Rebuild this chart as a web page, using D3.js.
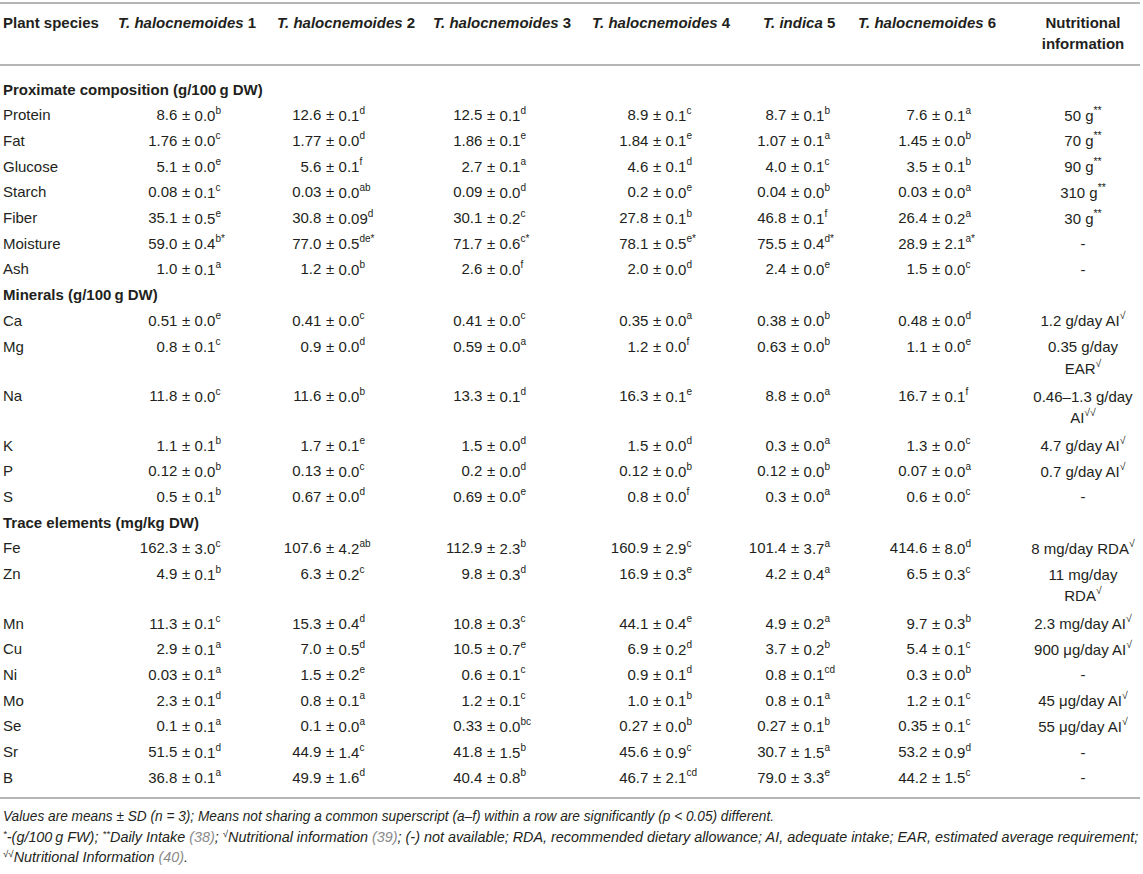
<!DOCTYPE html>
<html>
<head>
<meta charset="utf-8">
<script src="https://cdn.jsdelivr.net/npm/d3@7"></script>
<style>
  html, body { margin: 0; padding: 0; background: #fff; }
  svg { display: block; font-family: "Liberation Sans", Arial, Helvetica, sans-serif; }
</style>
</head>
<body>
<svg id="chart" width="1143" height="874"></svg>
<script>
// ---------------- DATA ----------------
const firstHeader = "Plant species";
const speciesNames = ["T. halocnemoides", "T. halocnemoides", "T. halocnemoides", "T. halocnemoides", "T. indica", "T. halocnemoides"];
const speciesNums = ["1", "2", "3", "4", "5", "6"];
const infoHeader = ["Nutritional", "information"];

const sections = ["Proximate composition (g/100\u2009g DW)", "Minerals (g/100\u2009g DW)", "Trace elements (mg/kg DW)"];

const proximateRows = ["Protein", "Fat", "Glucose", "Starch", "Fiber", "Moisture", "Ash"];
const proximateMeans = [
  ["8.6", "12.6", "12.5", "8.9", "8.7", "7.6"],
  ["1.76", "1.77", "1.86", "1.84", "1.07", "1.45"],
  ["5.1", "5.6", "2.7", "4.6", "4.0", "3.5"],
  ["0.08", "0.03", "0.09", "0.2", "0.04", "0.03"],
  ["35.1", "30.8", "30.1", "27.8", "46.8", "26.4"],
  ["59.0", "77.0", "71.7", "78.1", "75.5", "28.9"],
  ["1.0", "1.2", "2.6", "2.0", "2.4", "1.5"]
];
const proximateSD = [
  ["0.0", "0.1", "0.1", "0.1", "0.1", "0.1"],
  ["0.0", "0.0", "0.1", "0.1", "0.1", "0.0"],
  ["0.0", "0.1", "0.1", "0.1", "0.1", "0.1"],
  ["0.1", "0.0", "0.0", "0.0", "0.0", "0.0"],
  ["0.5", "0.09", "0.2", "0.1", "0.1", "0.2"],
  ["0.4", "0.5", "0.6", "0.5", "0.4", "2.1"],
  ["0.1", "0.0", "0.0", "0.0", "0.0", "0.0"]
];
const proximateSup = [
  ["b", "d", "d", "c", "b", "a"],
  ["c", "d", "e", "e", "a", "b"],
  ["e", "f", "a", "d", "c", "b"],
  ["c", "ab", "d", "e", "b", "a"],
  ["e", "d", "c", "b", "f", "a"],
  ["b*", "de*", "c*", "e*", "d*", "a*"],
  ["a", "b", "f", "d", "e", "c"]
];
const proximateInfo = ["50 g^**", "70 g^**", "90 g^**", "310 g^**", "30 g^**", "-", "-"];

const mineralRows = ["Ca", "Mg", "Na", "K", "P", "S"];
const mineralMeans = [
  ["0.51", "0.41", "0.41", "0.35", "0.38", "0.48"],
  ["0.8", "0.9", "0.59", "1.2", "0.63", "1.1"],
  ["11.8", "11.6", "13.3", "16.3", "8.8", "16.7"],
  ["1.1", "1.7", "1.5", "1.5", "0.3", "1.3"],
  ["0.12", "0.13", "0.2", "0.12", "0.12", "0.07"],
  ["0.5", "0.67", "0.69", "0.8", "0.3", "0.6"]
];
const mineralSD = [
  ["0.0", "0.0", "0.0", "0.0", "0.0", "0.0"],
  ["0.1", "0.0", "0.0", "0.0", "0.0", "0.0"],
  ["0.0", "0.0", "0.1", "0.1", "0.0", "0.1"],
  ["0.1", "0.1", "0.0", "0.0", "0.0", "0.0"],
  ["0.0", "0.0", "0.0", "0.0", "0.0", "0.0"],
  ["0.1", "0.0", "0.0", "0.0", "0.0", "0.0"]
];
const mineralSup = [
  ["e", "c", "c", "a", "b", "d"],
  ["c", "d", "a", "f", "b", "e"],
  ["c", "b", "d", "e", "a", "f"],
  ["b", "e", "d", "d", "a", "c"],
  ["b", "c", "d", "b", "b", "a"],
  ["b", "d", "e", "f", "a", "c"]
];
const mineralInfo = ["1.2 g/day AI^\u221A", "0.35 g/day|EAR^\u221A", "0.46\u20131.3 g/day|AI^\u221A\u221A", "4.7 g/day AI^\u221A", "0.7 g/day AI^\u221A", "-"];

const traceRows = ["Fe", "Zn", "Mn", "Cu", "Ni", "Mo", "Se", "Sr", "B"];
const traceMeans = [
  ["162.3", "107.6", "112.9", "160.9", "101.4", "414.6"],
  ["4.9", "6.3", "9.8", "16.9", "4.2", "6.5"],
  ["11.3", "15.3", "10.8", "44.1", "4.9", "9.7"],
  ["2.9", "7.0", "10.5", "6.9", "3.7", "5.4"],
  ["0.03", "1.5", "0.6", "0.9", "0.8", "0.3"],
  ["2.3", "0.8", "1.2", "1.0", "0.8", "1.2"],
  ["0.1", "0.1", "0.33", "0.27", "0.27", "0.35"],
  ["51.5", "44.9", "41.8", "45.6", "30.7", "53.2"],
  ["36.8", "49.9", "40.4", "46.7", "79.0", "44.2"]
];
const traceSD = [
  ["3.0", "4.2", "2.3", "2.9", "3.7", "8.0"],
  ["0.1", "0.2", "0.3", "0.3", "0.4", "0.3"],
  ["0.1", "0.4", "0.3", "0.4", "0.2", "0.3"],
  ["0.1", "0.5", "0.7", "0.2", "0.2", "0.1"],
  ["0.1", "0.2", "0.1", "0.1", "0.1", "0.0"],
  ["0.1", "0.1", "0.1", "0.1", "0.1", "0.1"],
  ["0.1", "0.0", "0.0", "0.0", "0.1", "0.1"],
  ["0.1", "1.4", "1.5", "0.9", "1.5", "0.9"],
  ["0.1", "1.6", "0.8", "2.1", "3.3", "1.5"]
];
const traceSup = [
  ["c", "ab", "b", "c", "a", "d"],
  ["b", "c", "d", "e", "a", "c"],
  ["c", "d", "c", "e", "a", "b"],
  ["a", "d", "e", "d", "b", "c"],
  ["a", "e", "c", "d", "cd", "b"],
  ["d", "a", "c", "b", "a", "c"],
  ["a", "a", "bc", "b", "b", "c"],
  ["d", "c", "b", "c", "a", "d"],
  ["a", "d", "b", "cd", "e", "c"]
];
const traceInfo = ["8 mg/day RDA^\u221A", "11 mg/day|RDA^\u221A", "2.3 mg/day AI^\u221A", "900 \u03BCg/day AI^\u221A", "-", "45 \u03BCg/day AI^\u221A", "55 \u03BCg/day AI^\u221A", "-", "-"];

// footnotes: segments [text, style] ; style: n normal, s superscript, g gray reference
const footnote1 = [["Values are means \u00B1 SD (n = 3); Means not sharing a common superscript (a\u2013f) within a row are significantly (p < 0.05) different.", "n"]];
const footnote2 = [["*", "s"], ["-(g/100\u2009g FW); ", "n"], ["**", "s"], ["Daily Intake ", "n"], ["(38)", "g"], ["; ", "n"], ["\u221A", "s"],
  ["Nutritional information ", "n"], ["(39)", "g"], ["; (-) not available; RDA, recommended dietary allowance; AI, adequate intake; EAR, estimated average requirement;", "n"]];
const footnote3 = [["\u221A\u221A", "s"], ["Nutritional Information ", "n"], ["(40)", "g"], [".", "n"]];

// ---------------- LAYOUT ----------------
const FS = 15;
const TEXT = "#231f20";
const RULE = "#b5b5b5";
const svg = d3.select("#chart");

const pmX = d3.scaleOrdinal().domain(d3.range(6)).range([186, 330, 491, 657, 795, 936]);
const headX = d3.scaleOrdinal().domain(d3.range(6)).range([118, 277, 433, 592, 763, 858]);
const infoX = 1083;
const labelX = 3;

// build row list
const rows = [];
function addSection(title, names, means, sds, sups, infos) {
  rows.push({ type: "section", title });
  names.forEach((n, i) => rows.push({ type: "data", name: n, means: means[i], sds: sds[i], sups: sups[i], info: infos[i] }));
}
addSection(sections[0], proximateRows, proximateMeans, proximateSD, proximateSup, proximateInfo);
addSection(sections[1], mineralRows, mineralMeans, mineralSD, mineralSup, mineralInfo);
addSection(sections[2], traceRows, traceMeans, traceSD, traceSup, traceInfo);

const rowStep = 25.7, lineStep = 21.5, multiExtra = 23.8;
let y = 89;
rows.forEach(r => {
  r.y = y;
  const nLines = r.type === "data" ? r.info.split("|").length : 1;
  y += rowStep + (nLines - 1) * multiExtra;
});

// rules
[3, 65, 798].forEach(yy => {
  svg.append("line").attr("x1", 0).attr("x2", 1140).attr("y1", yy).attr("y2", yy)
    .attr("stroke", RULE).attr("stroke-width", 2);
});

// header
const hdr = svg.append("g").attr("font-weight", "bold").attr("font-size", FS).attr("fill", TEXT)
  .attr("dominant-baseline", "central");
hdr.append("text").attr("x", labelX).attr("y", 22).text(firstHeader);
speciesNames.forEach((s, i) => {
  const t = hdr.append("text").attr("x", headX(i)).attr("y", 22);
  t.append("tspan").attr("font-style", "italic").text(s);
  t.append("tspan").text(" " + speciesNums[i]);
});
infoHeader.forEach((s, i) => {
  hdr.append("text").attr("x", infoX).attr("y", 22 + i * lineStep).attr("text-anchor", "middle").text(s);
});

// body
const body = svg.append("g").attr("font-size", FS).attr("fill", TEXT).attr("dominant-baseline", "central");

function addMarked(textSel, str) {
  const parts = str.split("^");
  textSel.append("tspan").text(parts[0]);
  if (parts.length > 1) {
    textSel.append("tspan").attr("font-size", 10.5).attr("dy", -5).text(parts[1]);
  }
}

rows.forEach(r => {
  if (r.type === "section") {
    body.append("text").attr("x", labelX).attr("y", r.y).attr("font-weight", "bold").text(r.title);
    return;
  }
  body.append("text").attr("x", labelX).attr("y", r.y).text(r.name);
  r.means.forEach((m, i) => {
    const cx = pmX(i);
    body.append("text").attr("x", cx - 8.6).attr("y", r.y).attr("text-anchor", "end").text(m);
    body.append("text").attr("x", cx).attr("y", r.y).attr("text-anchor", "middle").text("\u00B1");
    const t = body.append("text").attr("x", cx + 8.6).attr("y", r.y);
    t.append("tspan").text(r.sds[i]);
    t.append("tspan").attr("font-size", 10).attr("dy", -5).text(r.sups[i]);
  });
  r.info.split("|").forEach((line, k) => {
    const t = body.append("text").attr("x", infoX).attr("y", r.y + k * lineStep).attr("text-anchor", "middle");
    addMarked(t, line);
  });
});

// footnotes
const fnY = [816, 837, 857];
const fnGroups = [footnote1, footnote2, footnote3].map((segs, i) => {
  const g = svg.append("g").attr("transform", `translate(${labelX},${fnY[i]})`);
  const t = g.append("text").attr("x", 0).attr("y", 0).attr("font-size", 14).attr("font-style", "italic")
    .attr("fill", TEXT).attr("dominant-baseline", "central");
  let up = false;
  segs.forEach(([txt, st]) => {
    const sp = t.append("tspan").text(txt);
    if (st === "s") {
      sp.attr("font-size", 9.5).attr("dy", up ? 0 : -4);
      up = true;
    } else {
      if (up) { sp.attr("dy", 4); up = false; }
      if (st === "g") sp.attr("fill", "#8a8a8a");
    }
  });
  return { g, t };
});
const len2 = fnGroups[1].t.node().getComputedTextLength();
const k = 1136 / len2;
const lineFactor = [0.95, 1, 1];
fnGroups.forEach((f, i) => f.g.attr("transform", `translate(${labelX},${fnY[i]}) scale(${k * lineFactor[i]},1)`));
</script>
</body>
</html>
